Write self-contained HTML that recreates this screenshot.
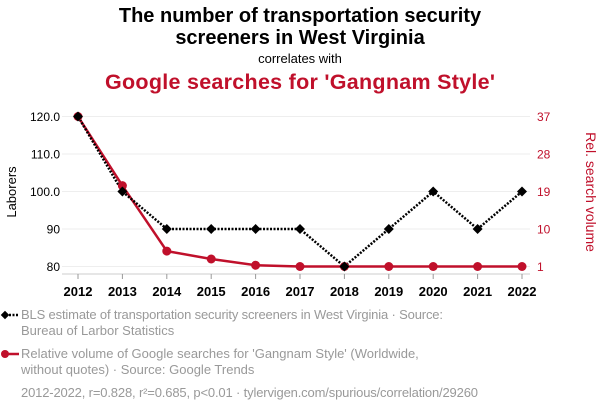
<!DOCTYPE html>
<html><head><meta charset="utf-8"><style>
body{margin:0;background:#fff;font-family:"Liberation Sans",sans-serif;}
svg{display:block}
</style></head><body>
<svg width="600" height="414" xmlns="http://www.w3.org/2000/svg">
<text x="300" y="22" text-anchor="middle" font-size="20" font-weight="bold">The number of transportation security</text>
<text x="300" y="44" text-anchor="middle" font-size="20" font-weight="bold">screeners in West Virginia</text>
<text x="300" y="63" text-anchor="middle" font-size="13">correlates with</text>
<text x="300" y="89" text-anchor="middle" font-size="21.5" font-weight="bold" fill="#c0102b" textLength="390">Google searches for 'Gangnam Style'</text>
<g id="grid"></g>
<g id="axes"></g>
<g id="series"></g>
<text transform="translate(16,192) rotate(-90)" text-anchor="middle" font-size="13">Laborers</text>
<text transform="translate(586,192) rotate(90)" text-anchor="middle" font-size="14" fill="#c0102b">Rel. search volume</text>
<g>
<line x1="2" y1="315" x2="19" y2="315" stroke="#000" stroke-width="2.5" stroke-dasharray="2,1.5"/>
<rect x="2" y="312" width="6" height="6" transform="rotate(45 5 315)" fill="#000"/>
<text x="21" y="319" font-size="13" fill="#999" textLength="422">BLS estimate of transportation security screeners in West Virginia · Source:</text>
<text x="21" y="335" font-size="13" fill="#999">Bureau of Larbor Statistics</text>
</g>
<g>
<line x1="2" y1="354" x2="19" y2="354" stroke="#c0102b" stroke-width="2.5"/>
<circle cx="5" cy="354" r="4" fill="#c0102b"/>
<text x="21" y="358" font-size="13" fill="#999">Relative volume of Google searches for 'Gangnam Style' (Worldwide,</text>
<text x="21" y="374" font-size="13" fill="#999">without quotes) · Source: Google Trends</text>
</g>
<text x="21" y="397" font-size="13" fill="#999" textLength="457">2012-2022, r=0.828, r²=0.685, p&lt;0.01 · tylervigen.com/spurious/correlation/29260</text>
</svg>
<script>
const years=[2012,2013,2014,2015,2016,2017,2018,2019,2020,2021,2022];
const laborers=[120,100,90,90,90,90,80,90,100,90,100];
const searches=[37,20.4,4.7,2.8,1.3,1,1,1,1,1,1];
const leftTicks=[80,90,100,110,120];
const leftTickLabels=["80","90","100.0","110.0","120.0"];
const rightTicks=[1,10,19,28,37];
const NS="http://www.w3.org/2000/svg";
const x=y=>78+(y-2012)*44.4;
const yl=v=>266.5-(v-80)*3.75;
const yr=v=>266.5-(v-1)*(150/36);
function mk(tag,attrs,parent,text){const e=document.createElementNS(NS,tag);for(const k in attrs)e.setAttribute(k,attrs[k]);if(text!==undefined)e.textContent=text;parent.appendChild(e);return e;}
const grid=document.getElementById('grid'),axes=document.getElementById('axes'),ser=document.getElementById('series');
leftTicks.forEach((t,i)=>{
 const g=mk('line',{x1:62,x2:530,y1:yl(t),y2:yl(t),stroke:'#eee','stroke-width':1},grid);
 
 
 const l=mk('text',{x:60,y:yl(t)+4.5,'text-anchor':'end','font-size':12},axes,leftTickLabels[i]);
 
 
});
rightTicks.forEach(t=>{
 const l=mk('text',{x:537,y:yr(t)+4.5,'font-size':12,fill:'#c0102b'},axes,String(t));
 
 
});
mk('line',{x1:62,x2:530,y1:274,y2:274,stroke:'#ccc'},axes);
years.forEach(y=>{
 mk('line',{x1:x(y),x2:x(y),y1:274,y2:279,stroke:'#999'},axes);
 const l=mk('text',{x:x(y),y:296,'text-anchor':'middle','font-size':13,'font-weight':'bold'},axes,String(y));
 
 
});
const rp=mk('polyline',{points:years.map((y,i)=>x(y)+','+yr(searches[i])).join(' '),fill:'none',stroke:'#c0102b','stroke-width':2.5},ser);


const bp=mk('polyline',{points:years.map((y,i)=>x(y)+','+yl(laborers[i])).join(' '),fill:'none',stroke:'#000','stroke-width':2.5,'stroke-dasharray':'2,1.5'},ser);


years.forEach((y,i)=>{
 const c=mk('circle',{cx:x(y),cy:yr(searches[i]),r:4.5,fill:'#c0102b'},ser);
 
 
});
years.forEach((y,i)=>{
 const cx=x(y),cy=yl(laborers[i]);
 const d=mk('polygon',{points:`${cx},${cy-5} ${cx+5},${cy} ${cx},${cy+5} ${cx-5},${cy}`,fill:'#000'},ser);
 
 
});
</script>
</body></html>
